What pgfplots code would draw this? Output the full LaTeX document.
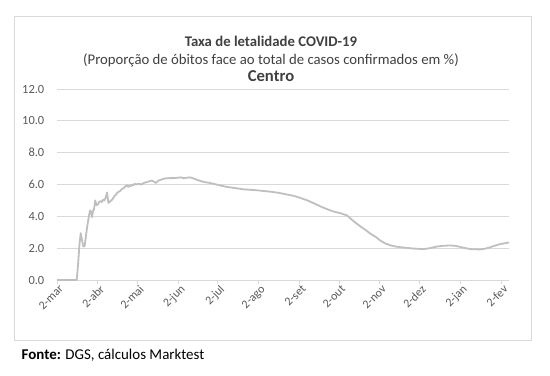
\documentclass[border=0pt]{standalone}
\usepackage{pgfplots}
\pgfplotsset{compat=1.18}
\usepackage{fontspec}
\setmainfont{Carlito}
\definecolor{tick}{HTML}{595959}
\definecolor{ttl}{HTML}{404040}
\definecolor{grd}{HTML}{D9D9D9}
\definecolor{ln}{HTML}{BFBFBF}
\begin{document}
\begin{tikzpicture}[x=1bp,y=1bp]
\useasboundingbox (0,0) rectangle (550,-375);
\draw[grd, line width=0.8bp] (14,-16) rectangle (531,-340);
\node[ttl, font=\bfseries\fontsize{14.8}{16}\selectfont, inner sep=0pt] at (271,-41) {Taxa de letalidade COVID-19};
\node[ttl, font=\fontsize{14.8}{16}\selectfont, inner sep=0pt] at (271,-60) {(Proporção de óbitos face ao total de casos confirmados em \%)};
\node[ttl, font=\bfseries\fontsize{16.7}{18}\selectfont, inner sep=0pt] at (271,-76) {Centro};
\node[anchor=west, font=\fontsize{15}{16}\selectfont, inner sep=0pt] at (21.5,-355) {\textbf{Fonte:} DGS, cálculos Marktest};
\begin{axis}[
  at={(57bp,-280bp)}, anchor=south west,
  scale only axis, width=452bp, height=191bp,
  xmin=0, xmax=343, ymin=0, ymax=12,
  axis y line*=left, y axis line style={draw=none},
  axis x line*=bottom, x axis line style={draw=grd, line width=0.8bp},
  ytick={0,2,...,12}, ymajorgrids, grid style={grd, line width=0.8bp},
  major y tick style={draw=none},
  xtick={0,31,61,92,122,153,184,214,245,275,306,337},
  xticklabels={2-mar,2-abr,2-mai,2-jun,2-jul,2-ago,2-set,2-out,2-nov,2-dez,2-jan,2-fev},
  xtick style={draw=grd, line width=0.8bp}, tick align=outside,
  major tick length=4bp,
  xticklabel style={rotate=45, anchor=north east, font=\fontsize{12}{13}\selectfont, text=tick, inner sep=1bp, xshift=2bp},
  yticklabel style={font=\fontsize{12.5}{13}\selectfont, text=tick, anchor=east, inner sep=0pt, xshift=-8.5bp},
  yticklabel={\pgfmathprintnumber[fixed,fixed zerofill,precision=1]{\tick}},
  /pgf/number format/assume math mode=true,
  clip=false,
]
\addplot[ln, line width=1.8bp, line join=round] coordinates {
(0,0)(15,0)(16,1.0)(17,2.2)(18,2.94)(19,2.5)(20,2.1)(21,2.15)(22,2.8)(23,3.4)(24,3.9)(25,4.36)(26,4.3)(26.5,3.95)(27.5,4.4)(28,4.4)(29,5.0)(30,4.7)(31,4.75)(32,4.9)(33,4.95)(34,4.9)(35,5.05)(36,5.0)(37,5.2)(38,5.5)(39,4.85)(40,4.9)(41,5.0)(42,5.05)(43,5.2)(44,5.3)(45,5.4)(46,5.5)(47,5.55)(48,5.6)(49,5.7)(50,5.75)(51,5.8)(52,5.9)(53,5.95)(54,5.85)(55,5.95)(56,5.9)(57,6.0)(58,5.95)(59,6.05)(60,6.0)(62,6.05)(64,6.0)(66,6.1)(68,6.15)(70,6.2)(72,6.25)(75,6.1)(77,6.25)(79,6.3)(80.5,6.35)(82,6.38)(85,6.4)(88,6.4)(91,6.42)(94,6.45)(96,6.4)(98,6.42)(101,6.45)(103,6.4)(106,6.3)(109,6.22)(112,6.15)(116,6.1)(121,6.0)(125,5.92)(129,5.85)(135,5.78)(141,5.7)(150,5.65)(162,5.55)(168,5.48)(174,5.38)(180,5.28)(185,5.15)(190,5.0)(195,4.82)(200,4.62)(205,4.45)(210,4.3)(215,4.2)(220,4.06)(225,3.7)(230,3.38)(234,3.15)(238,2.9)(242,2.7)(245,2.5)(249,2.3)(253,2.18)(257,2.1)(262,2.05)(270,1.98)(278,1.94)(283,2.0)(288,2.1)(293,2.15)(298,2.17)(302,2.15)(306,2.08)(310,2.0)(314,1.94)(318,1.93)(321,1.92)(325,1.97)(328,2.04)(332,2.15)(336,2.25)(339,2.3)(343,2.36)
};
\end{axis}
\end{tikzpicture}
\end{document}
